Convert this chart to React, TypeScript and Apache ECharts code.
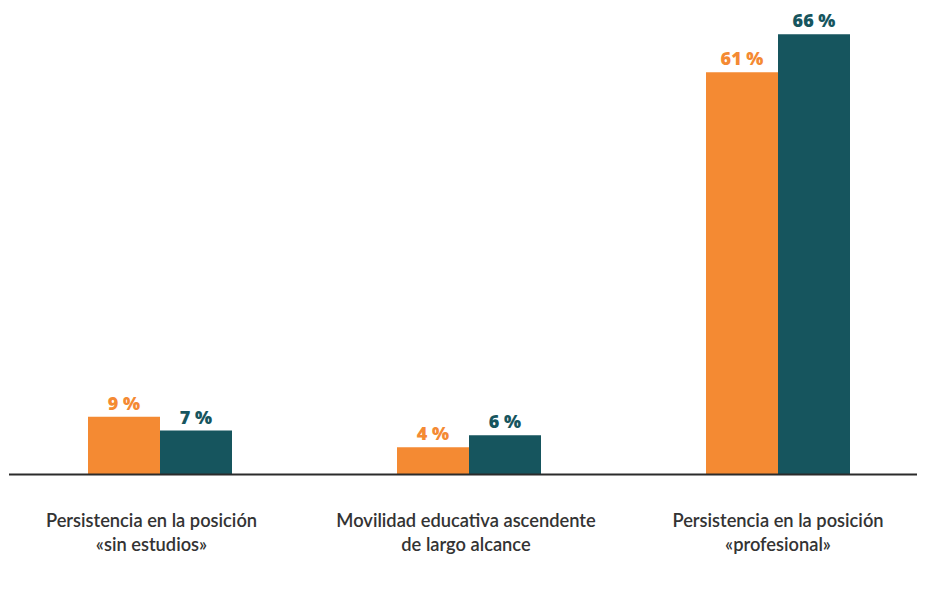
import React, { useEffect, useRef } from "react";
import * as echarts from "echarts";

const categories = [
  "Persistencia en la posición\n«sin estudios»",
  "Movilidad educativa ascendente\nde largo alcance",
  "Persistencia en la posición\n«profesional»",
];
const orangeValues = [8.7, 4.1, 60.5];
const tealValues = [6.6, 5.9, 66.2];
const orangeLabels = ["9 %", "4 %", "61 %"];
const tealLabels = ["7 %", "6 %", "66 %"];

const ORANGE = "#F48A33";
const TEAL = "#16555E";
const labelShift = [17, 6, 0];

export default function App() {
  const ref = useRef<HTMLDivElement>(null);
  useEffect(() => {
    if (!ref.current) return;
    const chart = echarts.init(ref.current, null, { renderer: "svg" });
    const labelFont = {
      fontFamily: "Open Sans",
      fontWeight: 800,
      fontSize: 18,
    };
    chart.setOption({
      animation: false,
      backgroundColor: "#ffffff",
      grid: { left: 5.5, right: 7.5, top: 9, bottom: 139.5, containLabel: false },
      xAxis: {
        type: "category",
        data: categories.map((c, i) => ({
          value: c,
          textStyle: { padding: [0, labelShift[i], 0, 0] },
        })),
        axisLine: { show: false },
        axisTick: { show: false },
        axisLabel: {
          interval: 0,
          margin: 34,
          color: "#333333",
          fontFamily: "Lato",
          fontWeight: 600,
          fontSize: 18.3,
          lineHeight: 23.5,
        },
      },
      yAxis: {
        type: "value",
        min: 0,
        max: 70,
        show: false,
        splitLine: { show: false },
      },
      graphic: [
        {
          type: "line",
          shape: { x1: 9, y1: 474.5, x2: 924, y2: 474.5 },
          style: { stroke: "#2b2b2b", lineWidth: 2 },
          z: 10,
        },
      ],
      series: [
        {
          type: "bar",
          data: orangeValues,
          barWidth: 72,
          barGap: "0%",
          itemStyle: { color: ORANGE },
          label: {
            show: true,
            position: "top",
            distance: 5,
            color: ORANGE,
            ...labelFont,
            formatter: (p: any) => orangeLabels[p.dataIndex],
          },
        },
        {
          type: "bar",
          data: tealValues,
          barWidth: 72,
          barGap: "0%",
          itemStyle: { color: TEAL },
          label: {
            show: true,
            position: "top",
            distance: 5,
            color: TEAL,
            ...labelFont,
            formatter: (p: any) => tealLabels[p.dataIndex],
          },
        },
      ],
    });
    return () => chart.dispose();
  }, []);
  return (
    <div style={{ width: 925, height: 614, margin: -8, overflow: "hidden", position: "relative" }}>
      <div ref={ref} style={{ width: 940, height: 614 }} />
    </div>
  );
}
